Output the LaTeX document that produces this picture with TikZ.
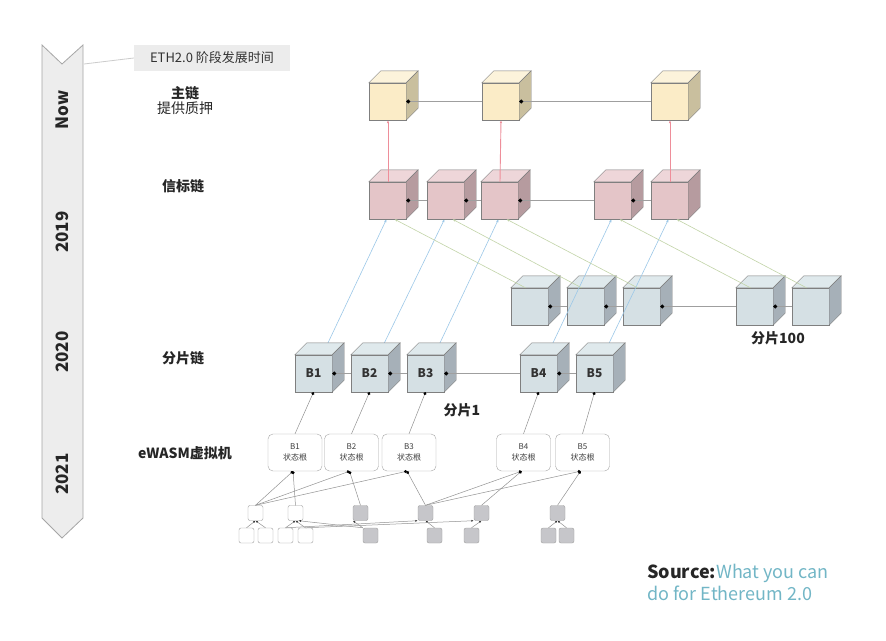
\documentclass[tikz,border=0pt]{standalone}
\usepackage{fontspec}
\setmainfont{Noto Sans CJK SC}
\usepackage{tikz}
\usepackage{xcolor}
\usetikzlibrary{arrows.meta}

\definecolor{mainF}{HTML}{FBECC7}
\definecolor{mainT}{HTML}{FCF3DB}
\definecolor{mainS}{HTML}{C9BF9E}
\definecolor{beaconF}{HTML}{E4C5C8}
\definecolor{beaconT}{HTML}{EED6D9}
\definecolor{beaconS}{HTML}{B69B9F}
\definecolor{shardF}{HTML}{D5E0E4}
\definecolor{shardT}{HTML}{DFE9EC}
\definecolor{shardS}{HTML}{A6B0B8}
\definecolor{edgegray}{HTML}{7F7F7F}
\definecolor{linkred}{HTML}{EE8E9A}
\definecolor{linkblue}{HTML}{9CC8E8}
\definecolor{linkgreen}{HTML}{C2D4A8}
\definecolor{leafgray}{HTML}{C6C6CA}
\definecolor{sourceteal}{HTML}{72B6C6}

\pgfdeclarelayer{bg}
\pgfdeclarelayer{mid}
\pgfsetlayers{bg,mid,main}

\tikzset{
    band/.style = {draw=gray!70, fill=gray!14, line width=0.8pt},
    year/.style = {rotate=90, font=\bfseries\fontsize{17}{19}\selectfont, text=black!85},
    callout/.style = {fill=gray!15, text=black!80, minimum width=156pt, minimum height=26pt, inner sep=2pt, font=\fontsize{13}{15}\selectfont},
    callout-line/.style = {draw=gray!40, line width=0.8pt},
    row-label/.style = {font=\bfseries\fontsize{14}{16}\selectfont, text=black!85, align=center},
    cube-front/.style = {draw=edgegray, minimum width=37pt, minimum height=37pt, inner sep=0pt, font=\bfseries\fontsize{12}{14}\selectfont, text=black!80},
    cube-edge/.style = {draw=edgegray},
    chain/.style = {draw=gray!75, line width=0.6pt, -{Circle[length=4pt,color=black]}},
    to-main/.style = {draw=linkred, line width=0.9pt, -{Latex[length=3pt,width=2.5pt]}},
    to-beacon/.style = {draw=linkblue, line width=0.6pt, -{Latex[length=3pt,width=2.5pt]}},
    cross-link/.style = {draw=linkgreen, line width=0.6pt, -{Latex[length=3pt,width=2.5pt]}},
    state-box/.style = {draw=gray!70, fill=white, rounded corners=5pt, minimum width=54pt, minimum height=37pt, align=center, font=\fontsize{8}{11}\selectfont, text=black!75},
    to-block/.style = {draw=gray!85, line width=0.5pt, -{Circle[length=3pt,color=black]}},
    leaf/.style = {draw=gray!75, rounded corners=2pt, minimum width=15pt, minimum height=15pt, inner sep=0pt},
    leaf-white/.style = {leaf, fill=white},
    leaf-gray/.style = {leaf, fill=leafgray},
    tree-link/.style = {draw=gray!85, line width=0.5pt, -{Latex[length=2.5pt,width=2pt,color=black!80]}},
}

% name, centre, colour prefix, label
\newcommand{\drawcube}[4]{%
    \node[cube-front, fill=#3F] (#1) at (#2) {#4};
    \filldraw[cube-edge, fill=#3T] (#1.north west) -- ++(12,-12) -- ([shift={(12,-12)}]#1.north east) -- (#1.north east) -- cycle;
    \filldraw[cube-edge, fill=#3S] (#1.north east) -- ++(12,-12) -- ([shift={(12,-12)}]#1.south east) -- (#1.south east) -- cycle;
}

\begin{document}
\begin{tikzpicture}[x=1pt,y=-1pt]
\begin{pgfonlayer}{bg}
\path[fill=white, use as bounding box] (0,0) rectangle (886,640);
\end{pgfonlayer}

% timeline band
\filldraw[band] (42,45) -- (62,64) -- (83,45) -- (83,518) -- (62,538) -- (42,518) -- cycle;
\node[year] (now) at (62,110) {Now};
\node[year] (y2019) at (62,232) {2019};
\node[year] (y2020) at (62,352) {2020};
\node[year] (y2021) at (62,474) {2021};
\node[callout] (title) at (212,58) {ETH2.0 阶段发展时间};
\coordinate (band-edge) at (84,64);
\draw[callout-line] (band-edge) -- (title.west);

% row labels
\node[row-label] (lbl-main) at (185,101) {主链\\[-1pt]{\mdseries 提供质押}};
\node[row-label] (lbl-beacon) at (183,186) {信标链};
\node[row-label] (lbl-shard) at (183,358) {分片链};
\node[row-label] (lbl-vm) at (185,453) {eWASM虚拟机};

% main chain
\drawcube{mc1}{387.5,101.5}{main}{}
\drawcube{mc2}{500.5,101.5}{main}{}
\drawcube{mc3}{669.5,101.5}{main}{}

% beacon chain
\drawcube{bc1}{387.5,200.5}{beacon}{}
\drawcube{bc2}{445.5,200.5}{beacon}{}
\drawcube{bc3}{499.5,200.5}{beacon}{}
\drawcube{bc4}{612.5,200.5}{beacon}{}
\drawcube{bc5}{669.5,200.5}{beacon}{}

% shard 100
\begin{pgfonlayer}{bg}
\drawcube{sh1}{529.5,306.5}{shard}{}
\drawcube{sh2}{585.5,306.5}{shard}{}
\drawcube{sh3}{641.5,306.5}{shard}{}
\drawcube{sh4}{754.5,306.5}{shard}{}
\drawcube{sh5}{810.5,306.5}{shard}{}
\end{pgfonlayer}
\node[row-label] (lbl-s100) at (778,338) {分片100};

% shard 1
\drawcube{b1}{313.5,373.5}{shard}{B1}
\drawcube{b2}{369.5,373.5}{shard}{B2}
\drawcube{b3}{425.5,373.5}{shard}{B3}
\drawcube{b4}{538.5,373.5}{shard}{B4}
\drawcube{b5}{594.5,373.5}{shard}{B5}
\node[row-label] (lbl-s1) at (462,410) {分片1};

% chain links
\foreach \cur/\prev in {mc2/mc1, mc3/mc2, bc2/bc1, bc3/bc2, bc4/bc3, bc5/bc4,
                        sh2/sh1, sh3/sh2, sh4/sh3, sh5/sh4, b2/b1, b3/b2, b4/b3, b5/b4}
    \draw[chain] (\cur.west) -- (\prev.east);

% beacon -> main
\foreach \src/\dst in {bc1/mc1, bc3/mc2, bc5/mc3}
    \draw[to-main] ([xshift=0.5pt]\src.north) -- ([xshift=0.5pt]\dst.south);

% shard 1 -> beacon (behind shard 1 cubes)
\begin{pgfonlayer}{mid}
\foreach \i in {1,...,5}
    \draw[to-beacon] (b\i.center) -- ([xshift=-1pt]bc\i.south);
\end{pgfonlayer}

% shard 100 -> beacon
\foreach \i in {1,...,5}
    \draw[cross-link] ([xshift=-4pt]sh\i.north) -- ([xshift=7pt]bc\i.south);

% state roots
\node[state-box] (sr1) at (295,452.5) {B1\\状态根};
\node[state-box] (sr2) at (351.5,452.5) {B2\\状态根};
\node[state-box] (sr3) at (409,452.5) {B3\\状态根};
\node[state-box] (sr4) at (523.5,452.5) {B4\\状态根};
\node[state-box] (sr5) at (582.5,452.5) {B5\\状态根};
\foreach \i in {1,...,5}
    \draw[to-block] (sr\i.north) -- (b\i.south);

% state tree
\node[leaf-white] (la) at (255.5,513) {};
\node[leaf-white] (lb) at (295.5,513) {};
\node[leaf-gray] (lc) at (360.5,513) {};
\node[leaf-gray] (ld) at (425.5,513) {};
\node[leaf-gray] (le) at (481.5,513) {};
\node[leaf-gray] (lf) at (557.5,513) {};

\node[leaf-white] (ka) at (246.5,535.5) {};
\node[leaf-white] (kb) at (265.5,535.5) {};
\node[leaf-white] (kc) at (285.5,535.5) {};
\node[leaf-white] (kd) at (305.5,535.5) {};
\node[leaf-gray] (ke) at (370.5,535.5) {};
\node[leaf-gray] (kf) at (434.5,535.5) {};
\node[leaf-gray] (kg) at (471.5,535.5) {};
\node[leaf-gray] (kh) at (548.5,535.5) {};
\node[leaf-gray] (ki) at (566.5,535.5) {};

\foreach \low/\high in {la/sr1, la/sr2, la/sr3, lb/sr1, lc/sr2, ld/sr3, ld/sr4, ld/sr5, le/sr4, lf/sr5}
    \draw[to-block] (\low.north) -- ([xshift=-2pt]\high.south);

\foreach \low/\high in {ka/la, kb/la, kc/lb, kd/lb, kf/ld, kg/le, kh/lf, ki/lf}
    \draw[tree-link] (\low.north) -- (\high.south);
\draw[tree-link] (ke.north west) -- (lc.south west);
\draw[tree-link] (ke.north west) -- ([xshift=3pt]lb.south);
\draw[tree-link] (kc.north) -- (ld.south west);
\draw[tree-link] (kd.north) -- (le.south west);

% source
\node[anchor=north west, align=left, inner sep=0pt, font=\fontsize{18}{22}\selectfont, text=sourceteal] (source) at (647,564)
    {{\bfseries\color{black!85}Source:}What you can\\do for Ethereum 2.0};
\end{tikzpicture}
\end{document}
